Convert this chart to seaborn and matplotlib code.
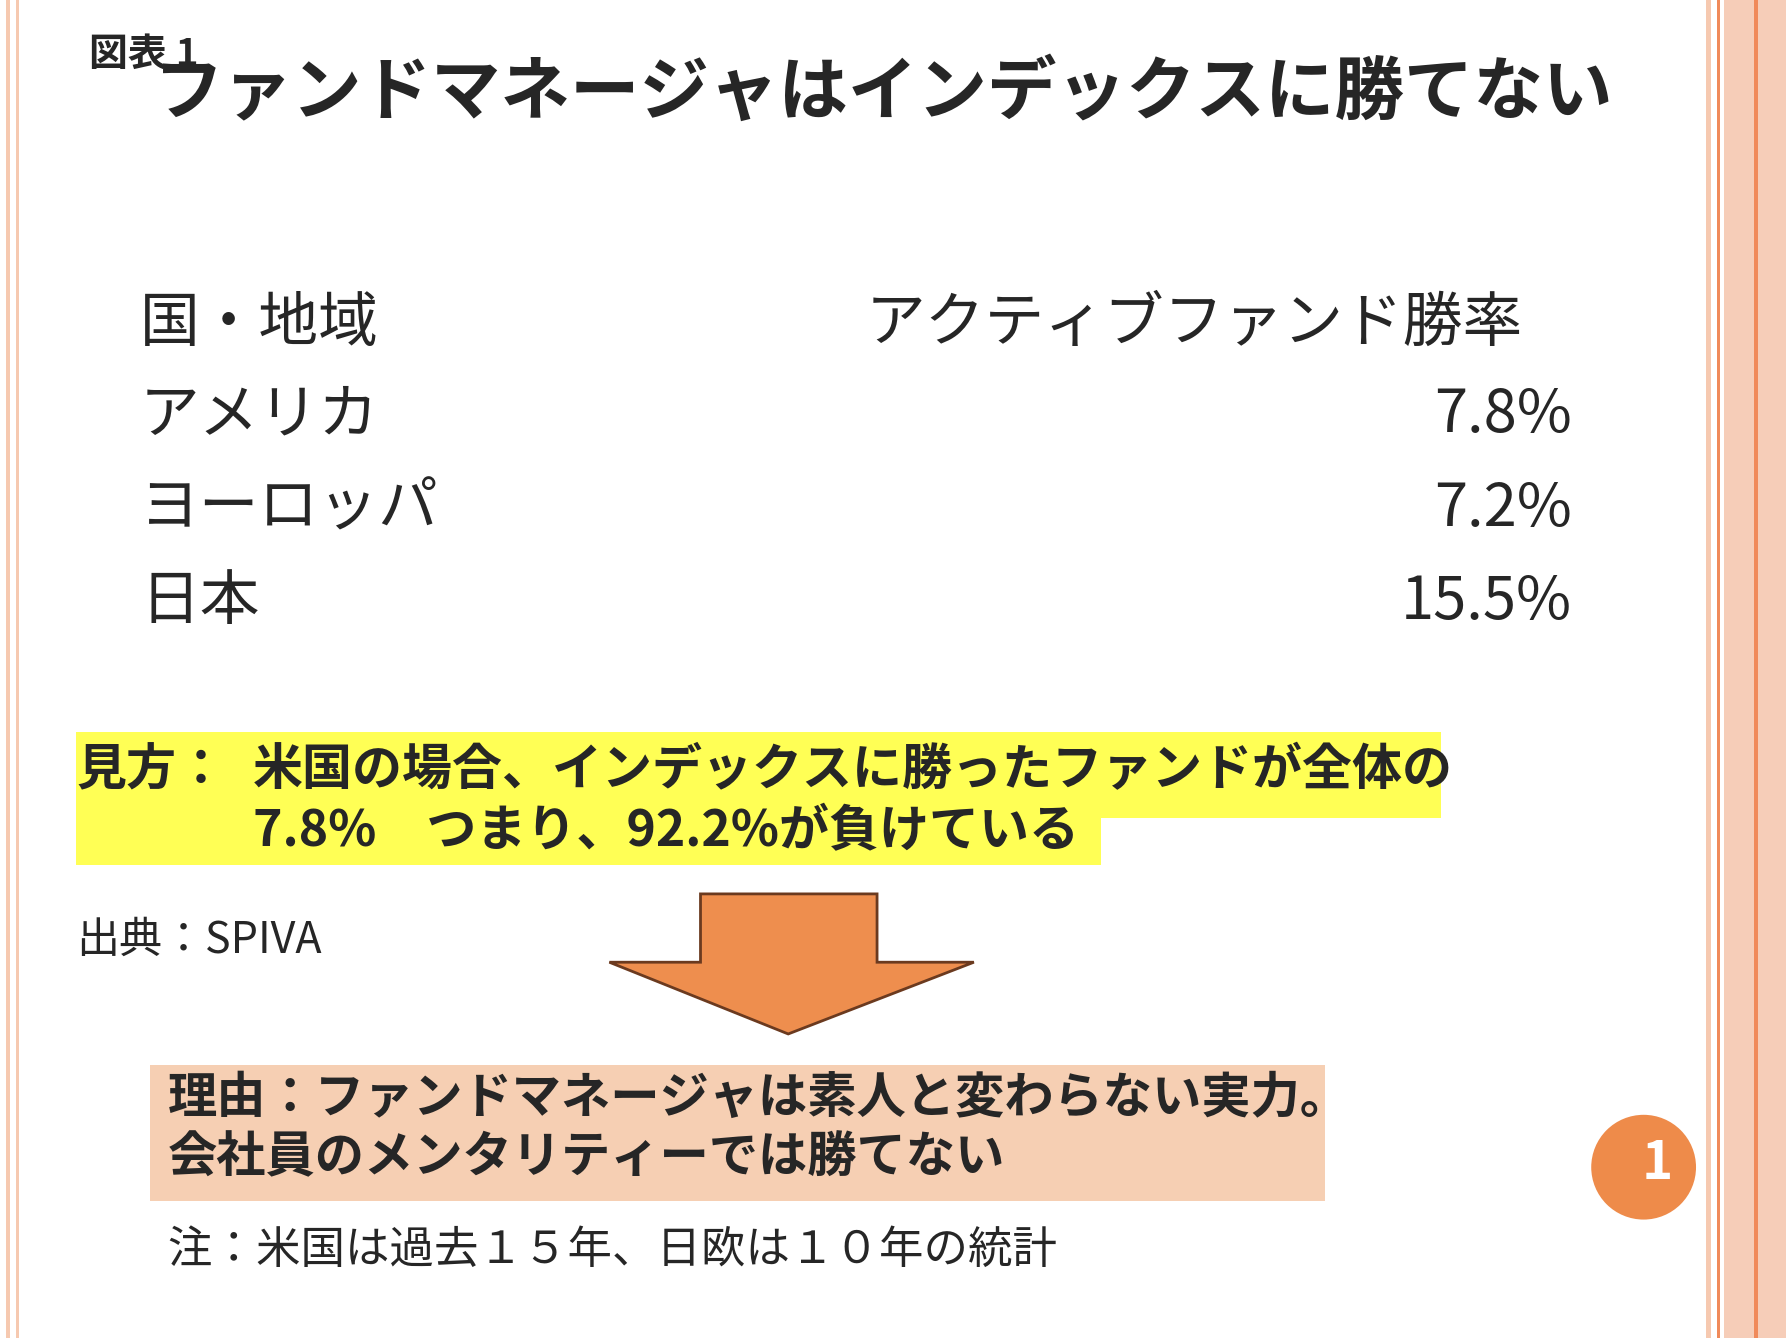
import matplotlib
matplotlib.use("Agg")
import matplotlib.pyplot as plt
import seaborn as sns
from matplotlib.patches import Rectangle, Polygon, Circle

sns.set_theme(style="white")
plt.rcParams['font.family'] = ['Noto Sans CJK JP', 'DejaVu Sans']

# table data
header = ["国・地域", "アクティブファンド勝率"]
regions = ["アメリカ", "ヨーロッパ", "日本"]
win_rates = [7.8, 7.2, 15.5]

title = "ファンドマネージャはインデックスに勝てない"
label = "図表 1"
view_text = ["見方：", "米国の場合、インデックスに勝ったファンドが全体の", "7.8%　つまり、92.2%が負けている"]
source = "出典：SPIVA"
reason = ["理由：ファンドマネージャは素人と変わらない実力。", "会社員のメンタリティーでは勝てない"]
note = "注：米国は過去１５年、日欧は１０年の統計"

fig = plt.figure(figsize=(17.86, 13.38), dpi=100)
ax = fig.add_axes([0, 0, 1, 1])
ax.set_xlim(0, 1568)
ax.set_ylim(1175, 0)
ax.axis("off")

# slide borders
for x, w, c in [(5, 4, "#F6C9B0"), (14, 3, "#F6C9B0"), (1498, 4, "#F6C9B0"),
                (1507, 3, "#F08A5A"), (1514, 54, "#F6CDB8")]:
    ax.add_patch(Rectangle((x, 0), w, 1175, color=c, lw=0))
ax.add_patch(Rectangle((1540, 0), 3, 1175, color="#F08A5A", lw=0))

ax.text(78, 48, label, fontsize=28, fontweight="bold", va="center")
ax.text(135, 82, title, fontsize=50, fontweight="bold", va="center")

ax.text(123, 285, header[0], fontsize=43, va="center")
ax.text(760, 285, header[1], fontsize=43, va="center")
for i, (r, v) in enumerate(zip(regions, win_rates)):
    y = 365 + i * 82
    ax.text(123, y, r, fontsize=43, va="center")
    ax.text(1380, y, f"{v:.1f}%", fontsize=43, va="center", ha="right")

ax.add_patch(Rectangle((67, 643), 1198, 75, color="#FFFF55", lw=0))
ax.add_patch(Rectangle((67, 705), 900, 55, color="#FFFF55", lw=0))
ax.text(67, 677, view_text[0], fontsize=36, fontweight="bold", va="center")
ax.text(222, 677, view_text[1], fontsize=36, fontweight="bold", va="center")
ax.text(222, 730, view_text[2], fontsize=36, fontweight="bold", va="center")

ax.text(67, 826, source, fontsize=31, va="center")

ax.add_patch(Polygon([(535, 845), (615, 845), (615, 785), (770, 785), (770, 845),
                      (855, 845), (692, 908)], closed=True, fc="#EE8E4E", ec="#6B3A1F", lw=2))

ax.add_patch(Rectangle((132, 935), 1031, 120, color="#F6CFB3", lw=0))
ax.text(147, 965, reason[0], fontsize=35.5, fontweight="bold", va="center")
ax.text(147, 1017, reason[1], fontsize=35.5, fontweight="bold", va="center")

ax.text(147, 1098, note, fontsize=32, va="center")

ax.add_patch(Circle((1443, 1025), 46, color="#EE8B4A", lw=0))
ax.text(1455, 1022, "1", fontsize=38, fontweight="bold", color="white", ha="center", va="center")

fig.savefig("out.png", dpi=100)
